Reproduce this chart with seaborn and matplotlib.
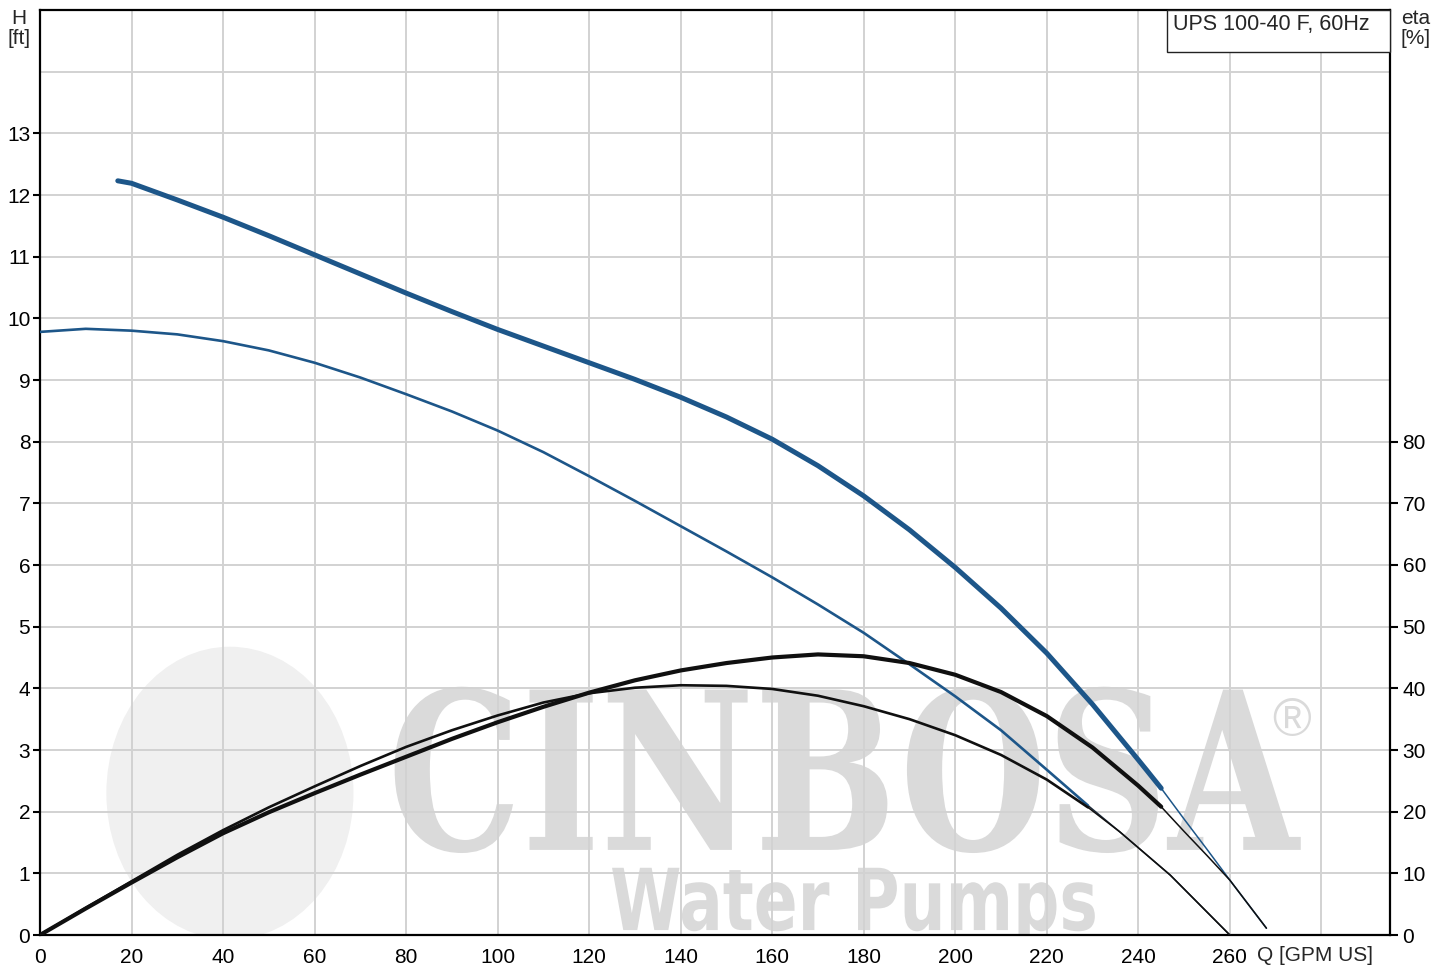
import matplotlib
matplotlib.use("Agg")
import matplotlib.pyplot as plt
import seaborn as sns
from matplotlib.textpath import TextPath
from matplotlib.font_manager import FontProperties
from matplotlib.patches import PathPatch, Ellipse, Rectangle
from matplotlib.transforms import Affine2D

# ---------------- data ----------------
# head curve, maximum speed (thick blue), Q [GPM US] -> H [ft]
q_head_max = [17, 20, 30, 40, 50, 60, 70, 80, 90, 100, 110, 120, 130, 140, 150,
              160, 170, 180, 190, 200, 210, 220, 230, 240, 245]
h_head_max = [12.23, 12.19, 11.92, 11.64, 11.34, 11.03, 10.72, 10.41, 10.11, 9.82,
              9.55, 9.28, 9.01, 8.72, 8.40, 8.04, 7.61, 7.12, 6.57, 5.96, 5.30,
              4.57, 3.74, 2.84, 2.38]
q_head_max_ext = [245, 250, 255, 260, 268]
h_head_max_ext = [2.38, 1.88, 1.39, 0.89, 0.11]

# head curve, lower speed (thin blue)
q_head_min = [0, 10, 20, 30, 40, 50, 60, 70, 80, 90, 100, 110, 120, 130, 140, 150,
              160, 170, 180, 190, 200, 210, 220, 229]
h_head_min = [9.78, 9.83, 9.80, 9.74, 9.63, 9.48, 9.28, 9.04, 8.77, 8.49, 8.18, 7.83,
              7.44, 7.04, 6.63, 6.22, 5.80, 5.36, 4.90, 4.39, 3.87, 3.32, 2.68, 2.10]
q_head_min_ext = [229, 236, 247, 260]
h_head_min_ext = [2.10, 1.67, 0.97, 0.0]

# efficiency curve, maximum speed (thick black), Q -> eta [%]
q_eta_max = [0, 10, 20, 30, 40, 50, 60, 70, 80, 90, 100, 110, 120, 130, 140, 150,
             160, 170, 180, 190, 200, 210, 220, 230, 240, 245]
eta_max = [0.0, 4.3, 8.5, 12.6, 16.5, 19.9, 23.0, 26.0, 28.9, 31.8, 34.5, 37.0,
           39.3, 41.3, 42.9, 44.1, 45.0, 45.5, 45.2, 44.1, 42.2, 39.4, 35.5, 30.4,
           24.2, 20.8]
q_eta_max_ext = [245, 250, 255, 260, 268]
eta_max_ext = [20.8, 16.8, 12.9, 8.9, 1.1]

# efficiency curve, lower speed (thin black)
q_eta_min = [0, 10, 20, 30, 40, 50, 60, 70, 80, 90, 100, 110, 120, 130, 140, 150,
             160, 170, 180, 190, 200, 210, 220, 229]
eta_min = [0.0, 4.4, 8.7, 13.0, 17.0, 20.7, 24.1, 27.4, 30.5, 33.2, 35.6, 37.7,
           39.2, 40.1, 40.5, 40.4, 39.9, 38.8, 37.1, 35.0, 32.4, 29.2, 25.2, 20.7]
q_eta_min_ext = [229, 236, 247, 260]
eta_min_ext = [20.7, 16.7, 9.7, 0.0]

x_ticks = [0, 20, 40, 60, 80, 100, 120, 140, 160, 180, 200, 220, 240, 260]
x_labels = [str(v) for v in x_ticks]
h_ticks = list(range(0, 14))
h_labels = [str(v) for v in h_ticks]
eta_ticks = [0, 10, 20, 30, 40, 50, 60, 70, 80]
eta_labels = [str(v) for v in eta_ticks]

title_text = "UPS 100-40 F, 60Hz"

# ---------------- style ----------------
sns.set_style("white")
plt.rcParams["font.family"] = ["Liberation Sans", "DejaVu Sans"]

BLUE = "#1d5689"
BLACK = "#101010"
GRID = "#d2d2d2"
FS = 15

fig = plt.figure(figsize=(14.49, 9.71), dpi=100)
ax = fig.add_axes([40 / 1449, 36 / 971, 1350 / 1449, 925 / 971])
ax.set_xlim(0, 295)
ax.set_ylim(0, 15)

# ---------------- watermark ----------------
ax.add_patch(Ellipse((41.5, 2.3), 54, 4.75, facecolor="#f0f0f0", edgecolor="none",
                     zorder=0.05))

def fitted_text(txt, fp, x0, x1, ybase, ytop, cap_frac, color):
    tp = TextPath((0, 0), txt, prop=fp, size=1)
    ext = tp.get_extents()
    sx = (x1 - x0) / ext.width
    sy = (ytop - ybase) / cap_frac
    tr = Affine2D().translate(-ext.x0, 0).scale(sx, sy).translate(x0, ybase)
    path = tr.transform_path(tp)
    ax.add_patch(PathPatch(path, facecolor=color, edgecolor="none", zorder=0.1))

fitted_text("CINBOSA", FontProperties(family="DejaVu Serif", weight="bold"),
            77.5, 275.5, 1.38, 3.98, 0.729, "#dadada")
fitted_text("Water Pumps", FontProperties(family="DejaVu Sans", weight="bold"),
            125.0, 230.5, 0.08, 1.09, 0.729, "#dadada")
ax.text(273.5, 3.45, "\u00ae", fontsize=38, color="#dadada", ha="center",
        va="center", zorder=0.1)

# ---------------- grid & axes ----------------
ax.set_axisbelow(True)
ax.set_xticks(x_ticks)
ax.set_xticklabels(x_labels, fontsize=FS)
ax.set_yticks(h_ticks)
ax.set_yticklabels(h_labels, fontsize=FS)
ax.grid(True, color=GRID, linewidth=1.4)
ax.axhline(14, color=GRID, linewidth=1.4, zorder=0.5)
ax.axvline(280, color=GRID, linewidth=1.4, zorder=0.5)
ax.tick_params(axis="both", direction="out", length=5, width=1.5, pad=2,
               colors="black")
ax.tick_params(axis="x", pad=4)
for s in ax.spines.values():
    s.set_color("black")
    s.set_linewidth(1.6)

# head curves
sns.lineplot(x=q_head_min_ext, y=h_head_min_ext, ax=ax, color="#1c2a3a",
             linewidth=1.1, sort=False, zorder=3)
sns.lineplot(x=q_head_max_ext, y=h_head_max_ext, ax=ax, color=BLUE,
             linewidth=1.1, sort=False, zorder=3)
sns.lineplot(x=q_head_min, y=h_head_min, ax=ax, color=BLUE, linewidth=1.9,
             sort=False, zorder=4)
sns.lineplot(x=q_head_max, y=h_head_max, ax=ax, color=BLUE, linewidth=3.6,
             sort=False, zorder=4)

# efficiency curves on the right axis
ax2 = ax.twinx()
ax2.set_ylim(0, 150)
ax2.set_yticks(eta_ticks)
ax2.set_yticklabels(eta_labels, fontsize=FS)
ax2.tick_params(axis="y", direction="out", length=6, width=1.5, pad=3,
                colors="black")
ax2.grid(False)
for s in ax2.spines.values():
    s.set_visible(False)

sns.lineplot(x=q_eta_min_ext, y=eta_min_ext, ax=ax2, color=BLACK, linewidth=1.1,
             sort=False, zorder=3)
sns.lineplot(x=q_eta_max_ext, y=eta_max_ext, ax=ax2, color=BLACK, linewidth=1.1,
             sort=False, zorder=3)
sns.lineplot(x=q_eta_min, y=eta_min, ax=ax2, color=BLACK, linewidth=1.9,
             sort=False, zorder=4)
sns.lineplot(x=q_eta_max, y=eta_max, ax=ax2, color=BLACK, linewidth=3.0,
             sort=False, zorder=4)
ax2.set_xlim(0, 295)
ax.set_xlabel("")
ax.set_ylabel("")
ax2.set_xlabel("")
ax2.set_ylabel("")

# title box
ax.add_patch(Rectangle((0.835, 0.9546), 0.165, 0.0454, transform=ax.transAxes,
                       facecolor="white", edgecolor="#222222", linewidth=1.0,
                       zorder=5, clip_on=False))
ax.text(0.8395, 0.9955, title_text, transform=ax.transAxes, fontsize=15.5,
        ha="left", va="top", zorder=6)

# axis titles
fig.text(19 / 1449, 1 - 9 / 971, "H\n[ft]", fontsize=15, ha="center", va="top",
         linespacing=1.1)
fig.text(1416 / 1449, 1 - 9 / 971, "eta\n[%]", fontsize=15, ha="center",
         va="top", linespacing=1.1)
fig.text(1315 / 1449, 1 - 955 / 971, "Q [GPM US]", fontsize=FS, ha="center",
         va="center")

fig.savefig("out.png", dpi=100, facecolor="white")
